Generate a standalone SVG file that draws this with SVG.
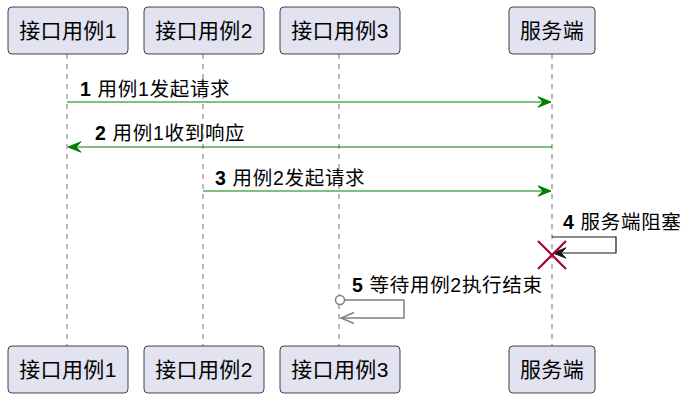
<svg xmlns="http://www.w3.org/2000/svg" width="691" height="401" viewBox="0 0 691 401">
<style>
.box{fill:#E2E2F0;stroke:#181818;stroke-width:0.8}
.pt{font-family:"Liberation Sans","Noto Sans CJK SC",sans-serif;font-size:21px;letter-spacing:0.4px;fill:#000;text-anchor:middle}
.life{stroke:#181818;stroke-width:0.6;stroke-dasharray:5,5}
.mt{font-family:"Liberation Sans","Noto Sans CJK SC",sans-serif;font-size:19.5px;letter-spacing:0.7px;fill:#000}
.num{font-weight:bold}
.g{stroke:#008000;stroke-width:1.2;fill:none}
.gh{fill:#008000;stroke:#008000;stroke-width:1}
</style>
<rect width="691" height="401" fill="#fff"/>
<g id="lifelines">
<line class="life" x1="67" y1="54" x2="67" y2="346"/>
<line class="life" x1="203" y1="54" x2="203" y2="346"/>
<line class="life" x1="339" y1="54" x2="339" y2="346"/>
<line class="life" x1="552" y1="54" x2="552" y2="346"/>
</g>
<g id="p1"><rect class="box" x="8" y="7" width="120" height="47" rx="4"/><text class="pt" x="68" y="38">接口用例1</text>
<rect class="box" x="8" y="346" width="120" height="47" rx="4"/><text class="pt" x="68" y="377">接口用例1</text></g>
<g id="p2"><rect class="box" x="144" y="7" width="120" height="47" rx="4"/><text class="pt" x="204" y="38">接口用例2</text>
<rect class="box" x="144" y="346" width="120" height="47" rx="4"/><text class="pt" x="204" y="377">接口用例2</text></g>
<g id="p3"><rect class="box" x="280" y="7" width="120" height="47" rx="4"/><text class="pt" x="340" y="38">接口用例3</text>
<rect class="box" x="280" y="346" width="120" height="47" rx="4"/><text class="pt" x="340" y="377">接口用例3</text></g>
<g id="server"><rect class="box" x="509" y="7" width="86" height="47" rx="4"/><text class="pt" x="552" y="38">服务端</text>
<rect class="box" x="509" y="346" width="86" height="47" rx="4"/><text class="pt" x="552" y="377">服务端</text></g>
<g id="connectors">
<line class="g" x1="67" y1="102" x2="548" y2="102"/>
<polygon class="gh" points="551,102 538,96.8 543,102 538,107.2"/>
<line class="g" x1="71" y1="147" x2="552" y2="147"/>
<polygon class="gh" points="68,147 81,141.8 76,147 81,152.2"/>
<line class="g" x1="203" y1="191" x2="548" y2="191"/>
<polygon class="gh" points="551,191 538,185.8 543,191 538,196.2"/>
<polyline points="552,237 616,237 616,253 556,253" fill="none" stroke="#181818" stroke-width="1.2"/>
<polygon points="553,253 566,247.8 561,253 566,258.2" fill="#181818" stroke="#181818"/>
<g stroke="#A80036" stroke-width="2.2"><line x1="538" y1="241" x2="566" y2="269"/><line x1="566" y1="241" x2="538" y2="269"/></g>
<polyline points="344,300 404,300 404,318 341,318" fill="none" stroke="#808080" stroke-width="1.5"/>
<polyline points="354,312.5 341,318 354,323.5" fill="none" stroke="#808080" stroke-width="1.5"/>
<circle cx="340" cy="300" r="4.5" fill="#fff" stroke="#808080" stroke-width="1.5"/>
</g>
<g id="labels">
<text class="mt" x="80" y="96"><tspan class="num">1</tspan><tspan dx="6">用例1发起请求</tspan></text>
<text class="mt" x="95" y="140"><tspan class="num">2</tspan><tspan dx="6">用例1收到响应</tspan></text>
<text class="mt" x="215" y="185"><tspan class="num">3</tspan><tspan dx="6">用例2发起请求</tspan></text>
<text class="mt" x="563" y="229"><tspan class="num">4</tspan><tspan dx="6">服务端阻塞</tspan></text>
<text class="mt" x="352" y="292"><tspan class="num">5</tspan><tspan dx="6">等待用例2执行结束</tspan></text>
</g>
</svg>
